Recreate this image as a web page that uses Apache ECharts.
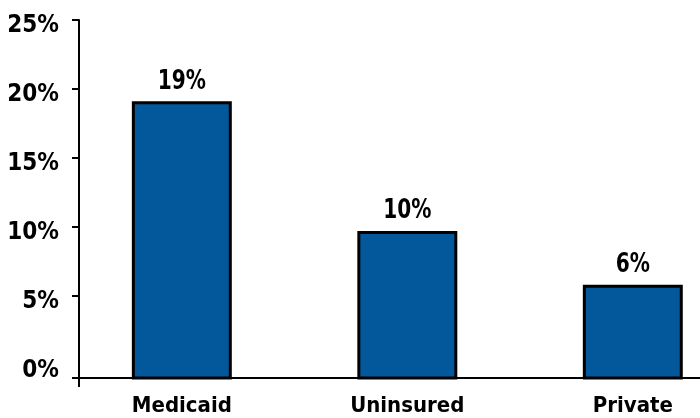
<!DOCTYPE html>
<html><head><meta charset="utf-8">
<script src="https://cdn.jsdelivr.net/npm/echarts@6/dist/echarts.min.js"></script>
<style>html,body{margin:0;padding:0;background:#fff}#c{width:700px;height:418px}</style>
</head><body><div id="c"></div>
<script>
const categories = ['Medicaid', 'Uninsured', 'Private'];
const values = [19, 9.6, 5.7];
const valueLabels = ['19%', '10%', '6%'];
const yTickLabels = [0, 5, 10, 15, 20, 25];

const FONT = "'Liberation Sans Narrow','DejaVu Sans Condensed',sans-serif";
const Y_MIN = -0.95, Y_MAX = 25;
const X_MIN = -0.456, X_MAX = 2.298;
const BAR_W = 0.43;
const BAR_COLOR = '#02589A';

const chart = echarts.init(document.getElementById('c'));
chart.setOption({
  animation: false,
  backgroundColor: '#fff',
  grid: { left: 79, right: 0, top: 20, bottom: 40, containLabel: false, outerBoundsMode: 'none' },
  xAxis: {
    type: 'value', min: X_MIN, max: X_MAX,
    axisLine: { show: true, onZero: false, lineStyle: { color: '#000', width: 2 } },
    axisTick: { show: true, length: 9, customValues: [X_MIN], lineStyle: { color: '#000', width: 2 } },
    axisLabel: {
      customValues: [0, 1, 2],
      formatter: v => categories[Math.round(v)],
      color: '#000', fontFamily: FONT, fontWeight: 'bold', fontSize: 22, margin: 17
    },
    splitLine: { show: false }
  },
  yAxis: {
    type: 'value', min: Y_MIN, max: Y_MAX,
    axisLine: { show: true, onZero: false, lineStyle: { color: '#000', width: 2 } },
    axisTick: { show: true, length: 7, customValues: [Y_MIN].concat(yTickLabels.filter(v => v > 0)), lineStyle: { color: '#000', width: 2 } },
    axisLabel: {
      customValues: yTickLabels,
      formatter: v => '{a|' + v + '%}',
      rich: { a: { color: '#000', fontFamily: FONT, fontWeight: 'bold', fontSize: 24, padding: [12, 0, 0, 0] } },
      color: '#000', fontFamily: FONT, fontWeight: 'bold', fontSize: 24, margin: 20
    },
    splitLine: { show: false }
  },
  series: [{
    type: 'custom',
    data: values.map((v, i) => [i, v]),
    renderItem: function (params, api) {
      const i = api.value(0), v = api.value(1);
      const top = api.coord([i, v]);
      const base = api.coord([i, Y_MIN]);
      const w = api.size([BAR_W, 0])[0];
      return {
        type: 'group',
        children: [
          { type: 'rect', shape: { x: top[0] - w / 2, y: top[1], width: w, height: base[1] - top[1] },
            style: { fill: BAR_COLOR, stroke: '#000', lineWidth: 3 } },
          { type: 'text', x: top[0], y: top[1] - 8, scaleX: 0.86, scaleY: 1,
            style: { text: valueLabels[params.dataIndex], x: 0, y: 0,
            align: 'center', verticalAlign: 'bottom', fill: '#000',
            font: 'bold 26px ' + FONT } }
        ]
      };
    }
  }]
});
</script></body></html>
